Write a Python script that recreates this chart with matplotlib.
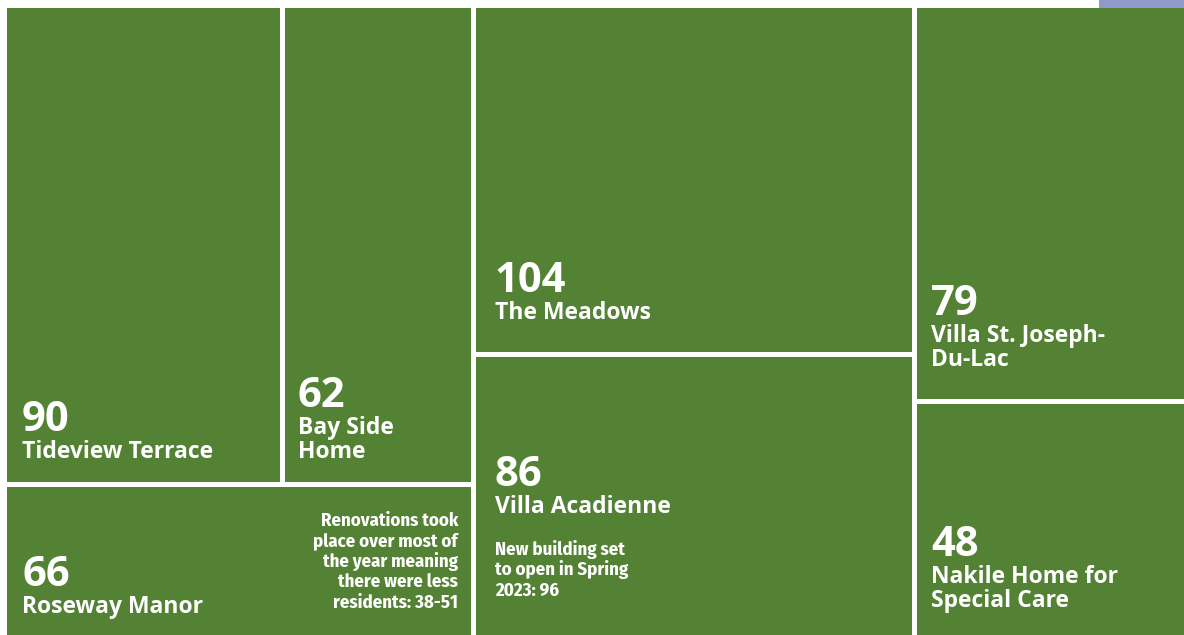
"""
Resident counts per long-term care home, drawn as a treemap
"""

import matplotlib
matplotlib.use('Agg')
import matplotlib.pyplot as plt
from matplotlib.patches import Rectangle

# Data
homes = ['Tideview Terrace', 'Bay Side Home', 'Roseway Manor',
         'The Meadows', 'Villa Acadienne',
         'Villa St. Joseph-Du-Lac', 'Nakile Home for Special Care']
residents = [90, 62, 66, 104, 86, 79, 48]
# box area weights (Roseway is sized by its renovation-year count, not 66)
box_sizes = [90, 62, 50, 104, 86, 79, 48]
# wrapped name lines as they appear in the boxes
name_lines = [['Tideview Terrace'], ['Bay Side', 'Home'], ['Roseway Manor'],
              ['The Meadows'], ['Villa Acadienne'],
              ['Villa St. Joseph-', 'Du-Lac'], ['Nakile Home for', 'Special Care']]
notes = {
    'Roseway Manor': ['Renovations took', 'place over most of', 'the year meaning',
                      'there were less', 'residents: 38-51'],
    'Villa Acadienne': ['New building set', 'to open in Spring', '2023: 96'],
}
# treemap structure: columns -> rows -> boxes (indices into homes)
columns = [[[0, 1], [2]], [[3], [4]], [[5], [6]]]

# Style / layout
GREEN = '#548235'
NUM_FONT = dict(family=['Open Sans', 'DejaVu Sans'], weight=700, size=30, color='white')
NAME_FONT = dict(family=['Open Sans', 'DejaVu Sans'], weight=700, size=16.5, color='white')
NOTE_FONT = dict(family=['Fira Sans Condensed', 'DejaVu Sans'], weight=700, size=13.5, color='white')
# label padding in pixels from the box's bottom-left corner (x, baseline of last name line)
label_pad = [(18, 26), (16, 26), (18, 29), (22, 35), (22, 129), (17, 35), (17, 35)]
NAME_STEP = 24
NUM_STEP = 27
NOTE_STEP = 20.5

W, H = 1184, 635
fig = plt.figure(figsize=(W / 100, H / 100), dpi=100)
fig.patch.set_facecolor('white')

total = sum(sum(box_sizes[i] for row in col for i in row) for col in columns)
ax = fig.add_axes([4 / W, -6.7 / H, 1204.8 / W, 636.7 / H])
ax.set_xlim(0, total)
ax.set_ylim(0, 1)
ax.axis('off')

# ============================================================================
# LAYOUT + DRAW
# ============================================================================
x = 0
for col in columns:
    col_sum = sum(box_sizes[i] for row in col for i in row)
    y_top = 1.0
    for row in col:
        row_sum = sum(box_sizes[i] for i in row)
        h = row_sum / col_sum
        bx = x
        for i in row:
            w = col_sum * box_sizes[i] / row_sum
            y0 = y_top - h
            ax.add_patch(Rectangle((bx, y0), w, h, facecolor=GREEN,
                                   edgecolor='white', linewidth=3.6))
            px, py = label_pad[i]
            lines = name_lines[i]
            for k, line in enumerate(lines):
                ax.annotate(line, xy=(bx, y0), xytext=(px, py + NAME_STEP * (len(lines) - 1 - k)),
                            textcoords='offset pixels', va='baseline', ha='left', **NAME_FONT)
            ax.annotate(str(residents[i]), xy=(bx, y0),
                        xytext=(px, py + NAME_STEP * (len(lines) - 1) + NUM_STEP),
                        textcoords='offset pixels', va='baseline', ha='left', **NUM_FONT)
            note = notes.get(homes[i])
            if note and homes[i] == 'Roseway Manor':
                for k, line in enumerate(note):
                    ax.annotate(line, xy=(bx + w, y0),
                                xytext=(-15, 34 + NOTE_STEP * (len(note) - 1 - k)),
                                textcoords='offset pixels', va='baseline', ha='right', **NOTE_FONT)
            elif note:
                for k, line in enumerate(note):
                    ax.annotate(line, xy=(bx, y0),
                                xytext=(px, 46 + NOTE_STEP * (len(note) - 1 - k)),
                                textcoords='offset pixels', va='baseline', ha='left', **NOTE_FONT)
            bx += w
        y_top -= h
    x += col_sum

# bluish corner of the page background, only visible above the boxes
fig.patches.append(Rectangle((1099 / W, 1 - 7.5 / H), 1, 7.5 / H, transform=fig.transFigure,
                             facecolor='#8e9bc9', edgecolor='none', zorder=5))

plt.savefig('out.png', dpi=100)
plt.close()
